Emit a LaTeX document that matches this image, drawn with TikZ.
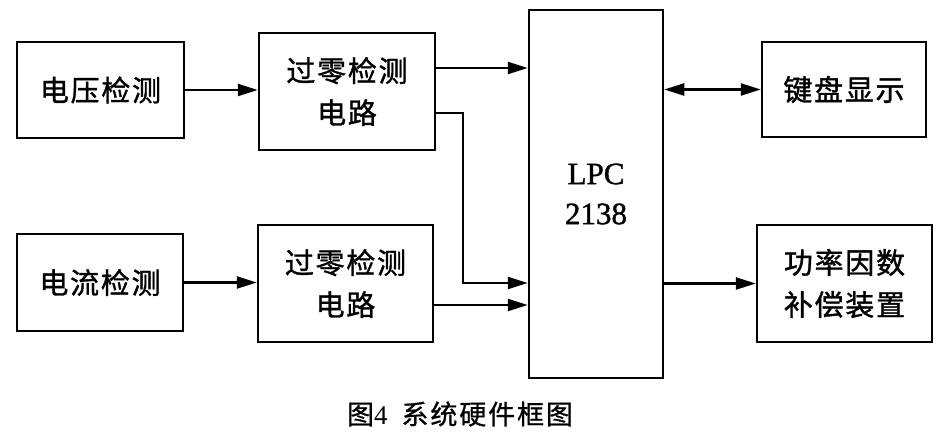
\documentclass[tikz,border=0pt]{standalone}
\usepackage{fontspec}
\setmainfont{Liberation Serif}
\newfontfamily\cjk[LetterSpace=6,FakeBold=1.2]{Noto Sans CJK SC}
\newfontfamily\cjkcap[LetterSpace=7,FakeBold=0.8]{Noto Sans CJK SC}
\newfontfamily\lpcfont[FakeBold=1.2]{Liberation Serif}
\usetikzlibrary{arrows.meta,calc}
\begin{document}
\begin{tikzpicture}[x=1pt,y=-1pt,
  blk/.style={draw,line width=2.5pt,inner sep=0pt,align=center,
    font=\cjk\fontsize{29}{42}\selectfont},
  arr/.style={line width=2.3pt,-{Triangle[length=20pt,width=12pt]}},
  darr/.style={line width=2.3pt,{Triangle[length=20pt,width=12pt]}-{Triangle[length=20pt,width=12pt]}}]
\useasboundingbox (0,0) rectangle (944,433);
\node[blk,minimum width=167pt,minimum height=96pt] (v) at (100.5,90) {电压检测};
\node[blk,minimum width=176pt,minimum height=117pt] (z1) at (347,91.5) {过零检测\\电路};
\node[blk,minimum width=134pt,minimum height=368pt,font=\lpcfont\fontsize{31}{40}\selectfont] (lpc) at (596,194) {LPC\\2138};
\node[blk,minimum width=164pt,minimum height=95pt] (k) at (844,89.5) {键盘显示};
\node[blk,minimum width=166pt,minimum height=97pt] (i) at (100,282.5) {电流检测};
\node[blk,minimum width=175pt,minimum height=117pt] (z2) at (345.5,283.5) {过零检测\\电路};
\node[blk,minimum width=175pt,minimum height=117pt] (p) at (844.5,283.5) {功率因数\\补偿装置};
\node[font=\fontsize{27}{30}\selectfont,inner sep=0pt] (cap) at (460,414) {{\cjkcap 图}4\hspace{14pt}{\cjkcap 系统硬件框图}};
\coordinate (ya) at (0,68);
\coordinate (yb) at (0,113);
\coordinate (yc) at (0,283);
\coordinate (yd) at (0,305);
\coordinate (j1) at (463,113);
\draw[arr] (v.east) -- (v.east -| z1.west);
\draw[arr] (z1.east |- ya) -- (lpc.west |- ya);
\draw[arr] (z1.east |- yb) -- (j1) |- (lpc.west |- yc);
\draw[arr] (z2.east |- yd) -- (lpc.west |- yd);
\draw[arr] (i.east) -- (i.east -| z2.west);
\draw[darr] (lpc.east |- k.west) -- (k.west);
\draw[arr] (lpc.east |- p.west) -- (p.west);
\end{tikzpicture}
\end{document}
